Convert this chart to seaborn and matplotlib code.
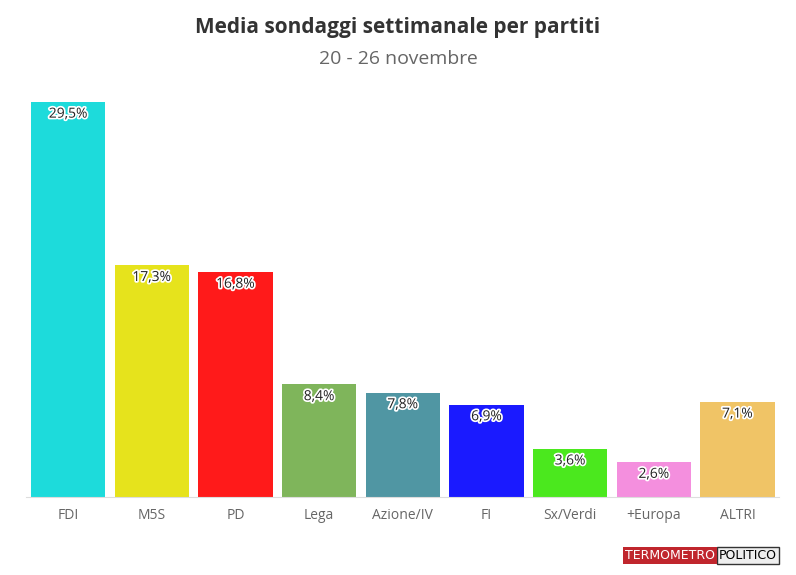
import matplotlib
matplotlib.use("Agg")
import matplotlib.pyplot as plt
import matplotlib.patheffects as pe
import seaborn as sns
import pandas as pd

parties = ["FDI", "M5S", "PD", "Lega", "Azione/IV", "FI", "Sx/Verdi", "+Europa", "ALTRI"]
values = [29.5, 17.3, 16.8, 8.4, 7.8, 6.9, 3.6, 2.6, 7.1]
colors = ["#1ddbdb", "#e6e31c", "#ff1a1a", "#7fb55b", "#5096a3", "#1a1aff", "#4be81e", "#f48fde", "#f0c466"]

df = pd.DataFrame({"party": parties, "value": values})
fig = plt.figure(figsize=(7.96, 5.75), dpi=100)
ax = fig.add_axes([0.033, 0.1357, 0.946, 0.687])
sns.barplot(data=df, x="party", y="value", hue="party", palette=colors, legend=False,
            width=0.89, saturation=1, ax=ax)
ax.set_ylim(0, 29.5)
ax.set_xlim(-0.5, len(parties) - 0.5)
for i, v in enumerate(values):
    ax.text(i, v - 0.35, f"{v:.1f}%".replace(".", ","), ha="center", va="top",
            fontsize=10, family="Open Sans", color="#222222",
            path_effects=[pe.withStroke(linewidth=2.5, foreground="white")])
ax.set_yticks([])
ax.set_xlabel(""); ax.set_ylabel("")
for s in ["top", "right", "left"]:
    ax.spines[s].set_visible(False)
ax.spines["bottom"].set_color("#dddddd")
ax.tick_params(axis="x", length=0, pad=8, labelsize=10, labelcolor="#666666")
for lab in ax.get_xticklabels():
    lab.set_family("Open Sans")

fig.text(0.5, 0.952, "Media sondaggi settimanale per partiti", ha="center", va="center",
         fontsize=15, fontweight="bold", family="Open Sans", color="#333333")
fig.text(0.5, 0.898, "20 - 26 novembre", ha="center", va="center",
         fontsize=14, family="Open Sans", color="#666666")
fig.text(0.976, 0.022, "POLITICO", ha="right", va="bottom", fontsize=9, family="DejaVu Sans",
         color="black", bbox=dict(boxstyle="square,pad=0.15", fc="#eeeeee", ec="#333333"))
fig.text(0.898, 0.022, "TERMOMETRO", ha="right", va="bottom", fontsize=9, family="DejaVu Sans",
         color="white", bbox=dict(boxstyle="square,pad=0.15", fc="#c0262d", ec="none"))
fig.savefig("out.png", dpi=100)
